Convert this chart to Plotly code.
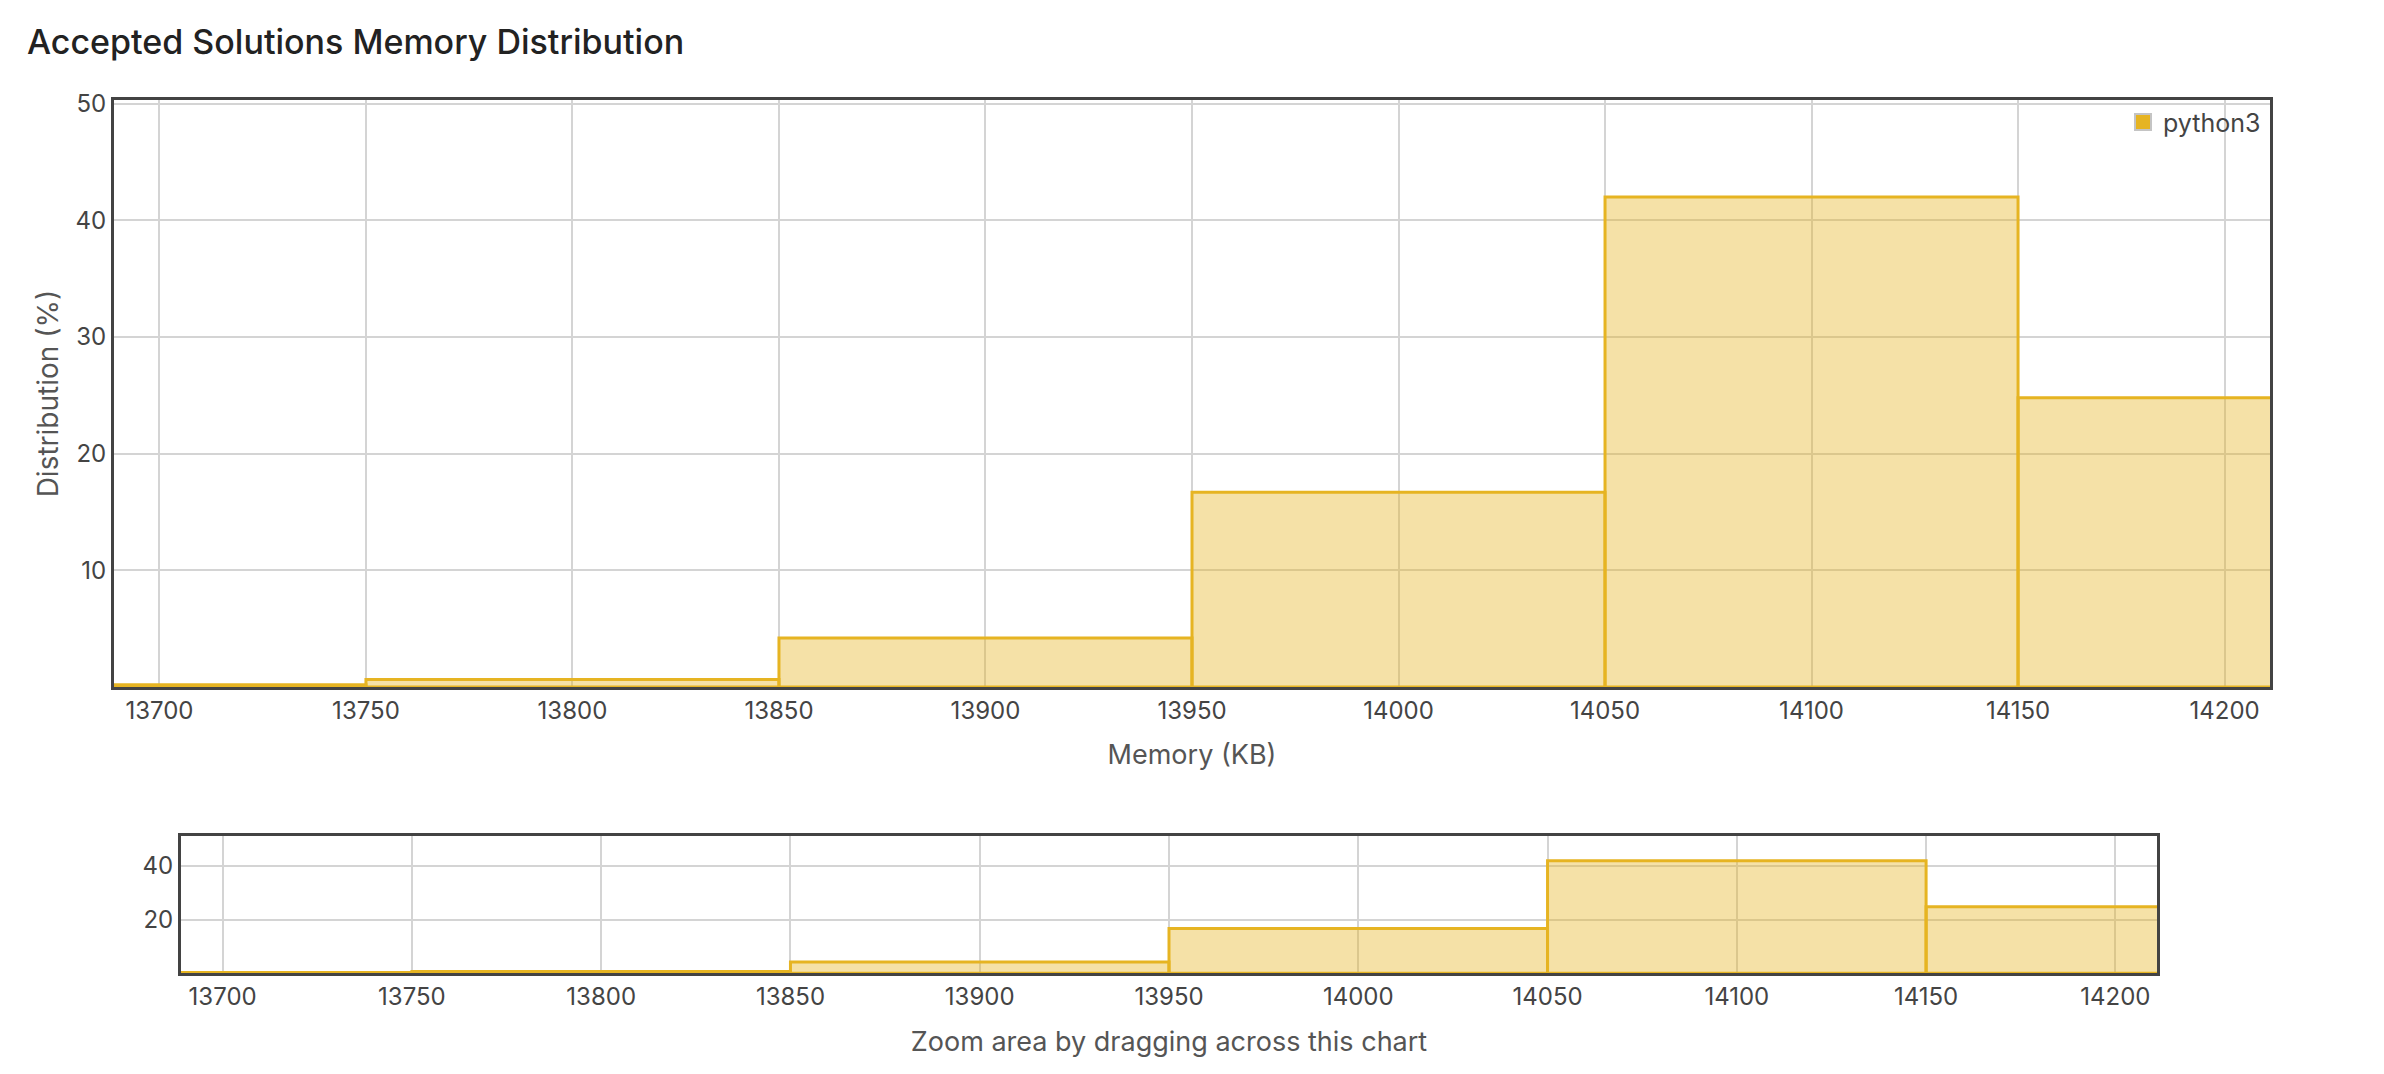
"""
Accepted solutions memory distribution (histogram + overview strip)
"""
import plotly.graph_objects as go

# 数据
bin_centers = [13700, 13800, 13900, 14000, 14100, 14200]
bin_width = 100
distribution = [0.2, 0.65, 4.2, 16.7, 42.0, 24.8]
series_name = 'python3'

x_range = [13689, 14211]
main_y_ticks = [10, 20, 30, 40, 50]
zoom_y_ticks = [20, 40]

gold = '#e6b422'
fill = 'rgba(230,180,34,0.4)'
grid = '#d4d4d4'
frame = '#434343'
font_family = 'Inter, Roboto, sans-serif'

W, H = 2384, 1074
PAD = 8  # 页面 body 默认边距


def px_x(v):
    return (v - PAD) / W


def px_y(v):
    return 1 - (v - PAD) / H


fig = go.Figure()

# 主图
fig.add_trace(go.Bar(
    x=bin_centers, y=distribution, width=bin_width,
    marker=dict(color=fill, line=dict(color=gold, width=3)),
    showlegend=False, xaxis='x', yaxis='y'
))

# 下方缩略图
fig.add_trace(go.Bar(
    x=bin_centers, y=distribution, width=bin_width,
    marker=dict(color=fill, line=dict(color=gold, width=3)),
    showlegend=False, xaxis='x2', yaxis='y2'
))

# 图例
fig.add_trace(go.Scatter(
    x=[None], y=[None], mode='markers', name=series_name,
    marker=dict(symbol='square', size=22, color=gold,
                line=dict(color='#c4c4c4', width=2)),
    xaxis='x', yaxis='y'
))

axis_common = dict(
    showgrid=True, gridcolor=grid, gridwidth=1.5,
    showline=True, linecolor=frame, linewidth=3, mirror=True,
    zeroline=False, ticks='', tickformat='d',
    tickfont=dict(family=font_family, size=24, color='#444444'),
)

title_font = dict(family=font_family, size=27, color='#555555')

fig.update_layout(
    width=W, height=H,
    margin=dict(l=0, r=0, t=0, b=0),
    paper_bgcolor='white', plot_bgcolor='white',
    font=dict(family=font_family, color='#444444'),
    barmode='overlay',
    title=dict(
        text='Accepted Solutions Memory Distribution',
        x=px_x(27), xanchor='left',
        y=px_y(42), yanchor='middle',
        font=dict(family=font_family, size=34, color='#222222', weight=500),
    ),
    xaxis=dict(
        axis_common, domain=[px_x(114), px_x(2270)], anchor='y',
        range=x_range, tick0=13700, dtick=50,
        title=dict(text='Memory (KB)', standoff=22, font=title_font),
    ),
    yaxis=dict(
        axis_common, domain=[px_y(683), px_y(90)], anchor='x',
        range=[0, 50.3], tickvals=main_y_ticks,
        title=dict(text='Distribution (%)', standoff=9,
                   font=dict(title_font, size=28)),
    ),
    xaxis2=dict(
        axis_common, domain=[px_x(181), px_x(2157)], anchor='y2',
        range=x_range, tick0=13700, dtick=50,
        title=dict(text='Zoom area by dragging across this chart', standoff=23,
                   font=title_font),
    ),
    yaxis2=dict(
        axis_common, domain=[px_y(972), px_y(833)], anchor='x2',
        range=[0, 51.4], tickvals=zoom_y_ticks,
    ),
    legend=dict(
        x=px_x(2266), xanchor='right',
        y=px_y(89), yanchor='top',
        bgcolor='rgba(0,0,0,0)',
        font=dict(family=font_family, size=25, color='#444444'),
        itemwidth=30, tracegroupgap=0,
    ),
)

fig.write_html("out.html")
